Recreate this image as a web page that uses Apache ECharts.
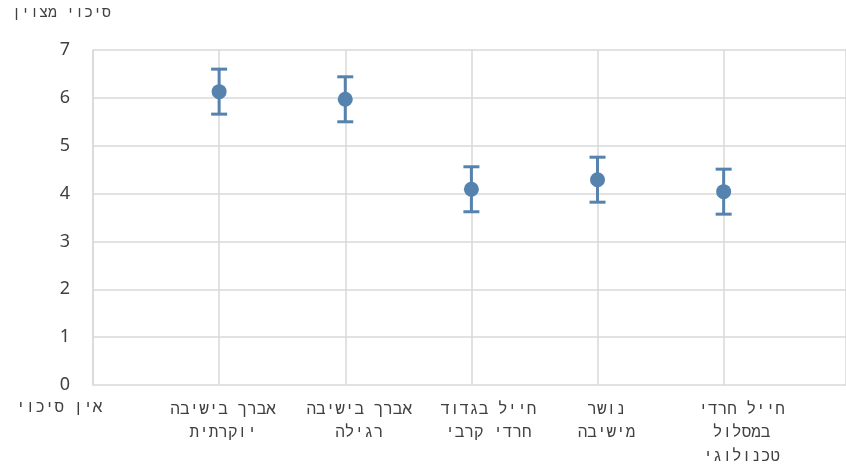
<!DOCTYPE html>
<html>
<head>
<meta charset="utf-8">
<script src="https://cdn.jsdelivr.net/npm/echarts@6/dist/echarts.min.js"></script>
<style>html,body{margin:0;padding:0;background:#fff}#c{width:846px;height:465px}</style>
</head>
<body>
<div id="c"></div>
<script>
const categories = ["אברך בישיבה\nיוקרתית", "אברך בישיבה\nרגילה", "חייל בגדוד\nחרדי קרבי", "נושר\nמישיבה", "חייל חרדי\nבמסלול\nטכנולוגי"];
const means = [6.13, 5.97, 4.09, 4.29, 4.04];
const errors = [0.47, 0.47, 0.47, 0.47, 0.47];
const yTicks = [0, 1, 2, 3, 4, 5, 6, 7];
const topLabel = "סיכוי מצוין";
const bottomLabel = "אין סיכוי";

const color = '#5583ae';
const textColor = '#404040';
const hebFont = 'Liberation Mono';
const numFont = 'Noto Sans';
// horizontal nudge of each category label (px), layout only
const labelShift = [4, 14, 17, 9, 18];

const pts = means.map((m, i) => [i + 1, m]);
const bars = means.map((m, i) => [i + 1, m - errors[i], m + errors[i]]);

const rich = {};
labelShift.forEach((s, i) => {
  rich['s' + i] = {padding: [0, 0, 0, 2 * s], fontFamily: hebFont, fontSize: 16, lineHeight: 23.5, color: textColor};
});

const chart = echarts.init(document.getElementById('c'), null, {renderer: 'canvas'});
chart.setOption({
  animation: false,
  grid: {left: 93, right: 0, top: 50, bottom: 80, containLabel: false, outerBoundsMode: 'none'},
  xAxis: {
    type: 'value', min: 0, max: 5.97, interval: 1,
    axisLine: {show: false}, axisTick: {show: false},
    splitLine: {show: true, lineStyle: {color: '#d9d9d9', width: 1.5}},
    axisLabel: {
      margin: 13, color: textColor, fontFamily: hebFont, fontSize: 16, lineHeight: 23.5,
      verticalAlign: 'top', showMaxLabel: false, rich: rich,
      formatter: v => {
        if (!(v >= 1 && v <= categories.length)) return '';
        const i = v - 1;
        return categories[i].split('\n').map(l => '{s' + i + '|' + l + '}').join('\n');
      }
    }
  },
  yAxis: {
    type: 'value', min: 0, max: 7, interval: 1,
    axisLine: {show: true, lineStyle: {color: '#d9d9d9', width: 1.5}}, axisTick: {show: false},
    splitLine: {show: true, lineStyle: {color: '#d9d9d9', width: 1.5}},
    axisLabel: {margin: 23, color: textColor, fontFamily: numFont, fontSize: 18,
      formatter: v => yTicks.includes(v) ? String(v) : ''}
  },
  graphic: [
    {type: 'text', left: 12, top: 6, style: {text: topLabel, fill: textColor, font: '15px "' + hebFont + '"'}},
    {type: 'text', left: 16, top: 400, style: {text: bottomLabel, fill: textColor, font: '16px "' + hebFont + '"'}}
  ],
  series: [
    {
      type: 'custom',
      data: bars,
      renderItem: (params, api) => {
        const x = api.value(0);
        const lo = api.coord([x, api.value(1)]);
        const hi = api.coord([x, api.value(2)]);
        const hw = 8;
        const st = {stroke: color, lineWidth: 3};
        return {type: 'group', children: [
          {type: 'line', shape: {x1: lo[0], y1: lo[1], x2: hi[0], y2: hi[1]}, style: st},
          {type: 'line', shape: {x1: lo[0] - hw, y1: lo[1], x2: lo[0] + hw, y2: lo[1]}, style: st},
          {type: 'line', shape: {x1: hi[0] - hw, y1: hi[1], x2: hi[0] + hw, y2: hi[1]}, style: st}
        ]};
      },
      z: 2
    },
    {
      type: 'scatter', data: pts, symbol: 'circle', symbolSize: 15,
      itemStyle: {color: color, opacity: 1}, z: 3
    }
  ]
});
</script>
</body>
</html>
